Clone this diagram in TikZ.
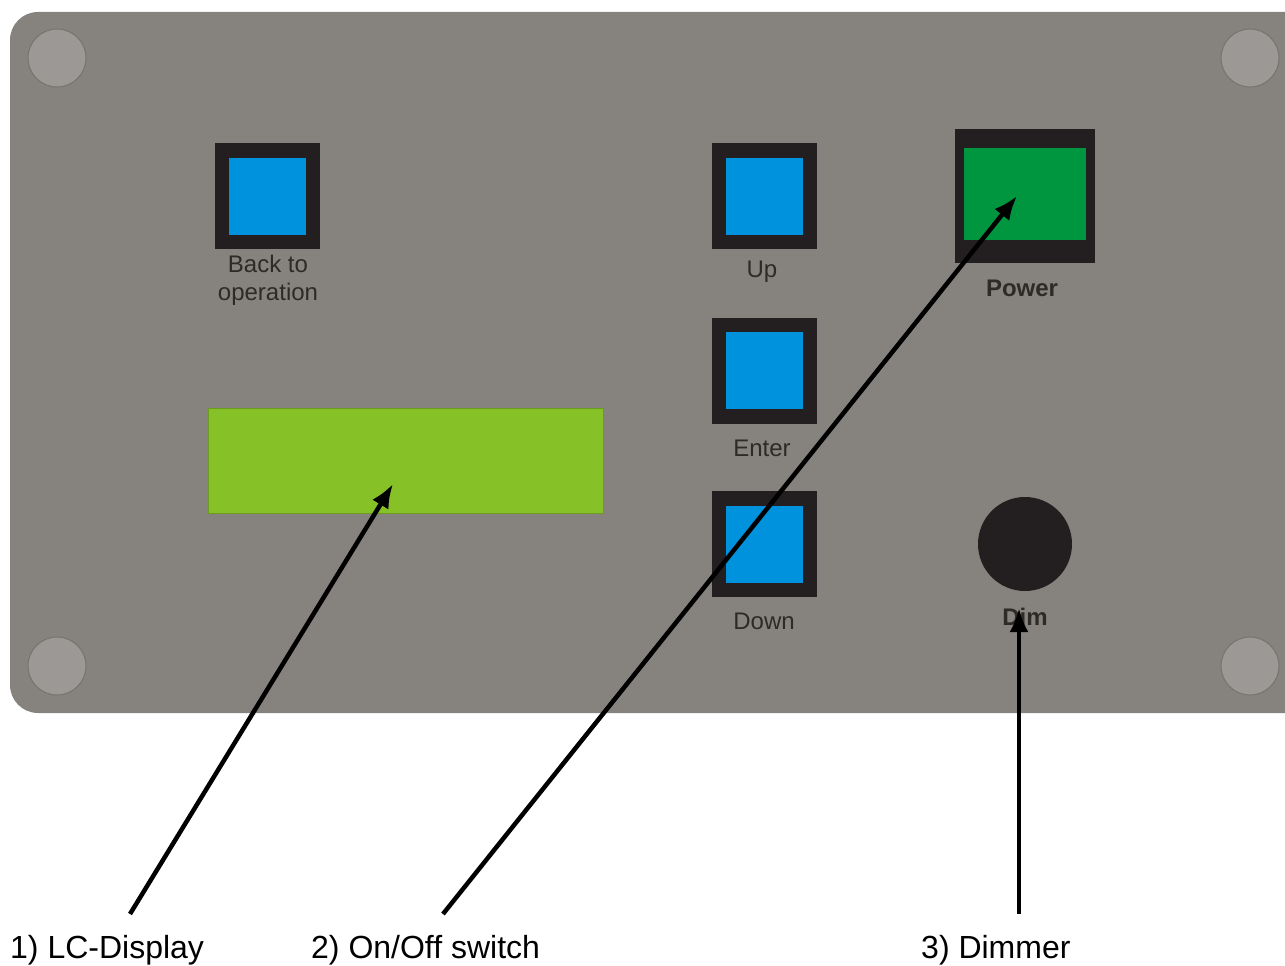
\documentclass[tikz,border=0pt]{standalone}
\usepackage{fontspec}
\setmainfont{Liberation Sans}
\usetikzlibrary{positioning, arrows.meta}
\definecolor{panelgray}{RGB}{134,130,126}
\definecolor{holegray}{RGB}{156,152,149}
\definecolor{holeedge}{RGB}{118,114,110}
\definecolor{keyblue}{RGB}{0,146,221}
\definecolor{powergreen}{RGB}{0,150,64}
\definecolor{lcdgreen}{RGB}{134,194,39}
\definecolor{framedark}{RGB}{35,31,32}
\definecolor{labelgray}{RGB}{45,42,40}

\begin{document}
\begin{tikzpicture}[x=1pt,y=-1pt,
		keyframe/.style={rectangle, fill=framedark, minimum width=105pt, minimum height=106pt, inner sep=0pt},
		keycap/.style={rectangle, fill=keyblue, minimum width=77pt, minimum height=77pt, inner sep=0pt},
		keylabel/.style={text=labelgray, font=\fontsize{24}{28}\selectfont, align=center, inner sep=0pt},
		boldlabel/.style={keylabel, font=\fontsize{24}{28}\selectfont\bfseries},
		callout/.style={font=\fontsize{32}{38}\selectfont, inner sep=0pt, anchor=base west},
		pointer/.style={line width=4.5pt, -{Latex[length=24pt,width=19pt]}}]
		\useasboundingbox (0,0) rectangle (1285,966);
		\clip (0,0) rectangle (1285,966);
		% front plate
		\fill[panelgray, rounded corners=28pt] (10,12) rectangle (1320,713);
		\foreach \hx/\hy in {57/58, 1250/58, 57/666, 1250/666} {
			\filldraw[fill=holegray, draw=holeedge, line width=1pt] (\hx,\hy) circle (29);
		}
		% keys
		\node[keyframe] (backkey) at (267.5,196) {};
		\node[keycap] at (backkey.center) {};
		\node[keylabel, anchor=north] (backlabel) at (268,255) {Back to\\operation};
		\node[keyframe] (upkey) at (764.5,196) {};
		\node[keycap] at (upkey.center) {};
		\node[keylabel, anchor=base] (uplabel) at (762,277) {Up};
		\node[keyframe] (enterkey) at (764.5,370.5) {};
		\node[keycap] at (enterkey.center) {};
		\node[keylabel, anchor=base] (enterlabel) at (762,456) {Enter};
		\node[keyframe] (downkey) at (764.5,544) {};
		\node[keycap] at (downkey.center) {};
		\node[keylabel, anchor=base] (downlabel) at (764,629) {Down};
		% power switch
		\node[keyframe, minimum width=140pt, minimum height=134pt] (powerkey) at (1025,196) {};
		\node[rectangle, fill=powergreen, minimum width=122pt, minimum height=92pt, inner sep=0pt] (powercap) at (1025,194) {};
		\node[boldlabel, anchor=base] (powerlabel) at (1022,296) {Power};
		% dimmer knob
		\node[circle, fill=framedark, minimum size=94pt, inner sep=0pt] (dimknob) at (1025,544) {};
		\node[boldlabel, anchor=base] (dimlabel) at (1025,625) {Dim};
		% display
		\node[rectangle, fill=lcdgreen, draw=lcdgreen!80!black, line width=1pt, minimum width=395pt, minimum height=105pt, inner sep=0pt] (lcd) at (405.5,460.5) {};
		% callouts
		\node[callout] (lcdtext) at (10,958) {1) LC-Display};
		\node[callout] (switchtext) at (311,958) {2) On/Off switch};
		\node[callout] (dimmertext) at (921,958) {3) Dimmer};
		\coordinate (lcdtail) at (130,914);
		\coordinate (lcdtip) at (393,484);
		\coordinate (switchtail) at (443,914);
		\coordinate (switchtip) at (1017,196);
		\coordinate (dimmertail) at (1019,914);
		\coordinate (dimmertip) at (1019,608);
		\draw[pointer] (lcdtail) -- (lcdtip);
		\draw[pointer] (switchtail) -- (switchtip);
		\draw[pointer] (dimmertail) -- (dimmertip);
	\end{tikzpicture}
\end{document}
